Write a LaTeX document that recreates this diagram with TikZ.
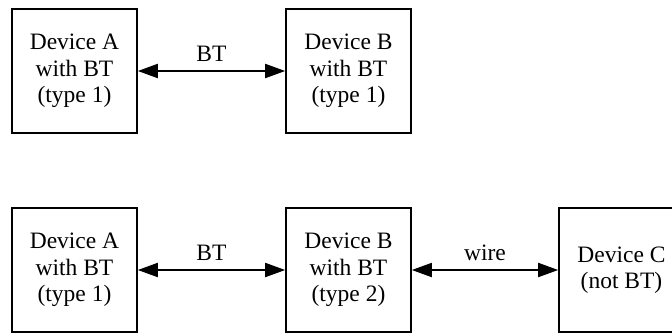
\documentclass[tikz,border=0pt]{standalone}
\usepackage{fontspec}
\setmainfont{Liberation Serif}
\usetikzlibrary{arrows.meta}
\begin{document}
\begin{tikzpicture}
        [x=1pt,y=1pt,
        devicedecorate/.style={shape=rectangle,draw,line width=1.6pt,minimum width=125pt,
          minimum height=124pt,inner sep=0pt,align=center,font=\fontsize{23.5}{26.5}\selectfont},%
        linkdecorate/.style={{Triangle[length=20pt,width=14pt]}-{Triangle[length=20pt,width=14pt]},
          line width=1.8pt}]
        \useasboundingbox (0,0) rectangle (672,333);
        %% nodes or devices
        \foreach \nodename/\x/\y/\devtext in {a1/74.5/262/{Device A\\with BT\\(type 1)},
          b1/348.5/262/{Device B\\with BT\\(type 1)}, a2/74.5/63/{Device A\\with BT\\(type 1)},
          b2/348.5/63/{Device B\\with BT\\(type 2)}, c2/621.5/63/{Device C\\(not BT)}}
        {
          \node (\nodename) at (\x,\y) [devicedecorate] {\devtext};
        }
        %% links
        \path
        \foreach \startnode/\endnode/\linktext in {a1/b1/BT, a2/b2/BT, b2/c2/wire}
        {
          (\startnode) edge[linkdecorate] node[above=5pt,font=\fontsize{23.5}{26.5}\selectfont] {\linktext} (\endnode)
        };
      \end{tikzpicture}
\end{document}
